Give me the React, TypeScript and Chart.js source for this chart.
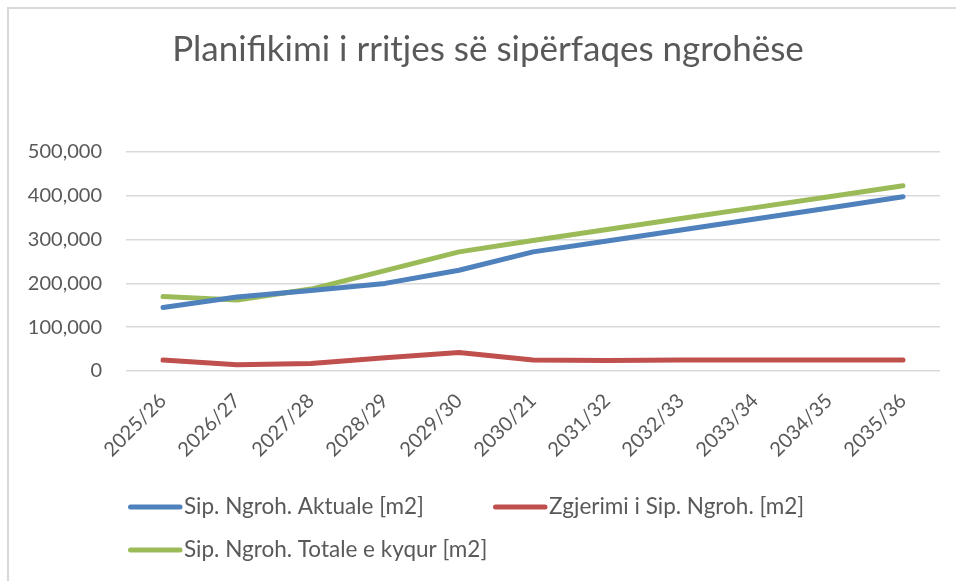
import React, { useEffect, useRef } from "react";
import { Chart, registerables } from "chart.js";

Chart.register(...registerables);

const TITLE = "Planifikimi i rritjes së sipërfaqes ngrohëse";

const categories = [
  "2025/26", "2026/27", "2027/28", "2028/29", "2029/30", "2030/21",
  "2031/32", "2032/33", "2033/34", "2034/35", "2035/36",
];

const seriesNames = [
  "Sip. Ngroh. Aktuale [m2]",
  "Zgjerimi i Sip. Ngroh. [m2]",
  "Sip. Ngroh. Totale e kyqur [m2]",
];

const aktuale = [145000, 169000, 184000, 200000, 230000, 272000, 297000, 322000, 347000, 372000, 398000];
const zgjerimi = [25000, 14000, 17000, 30000, 42000, 25000, 24000, 25000, 25000, 25000, 25000];
const totale = [170000, 162000, 187000, 229000, 272000, 298000, 323000, 348000, 373000, 398000, 423000];

const yTicks = [0, 100000, 200000, 300000, 400000, 500000];

const colors = ["#4f81bd", "#c0504d", "#9bbb59"];
const TEXT = "#595959";
const FONT = "Lato";

const legendPlugin = {
  id: "excelLegend",
  afterDraw(chart: any) {
    const ctx = chart.ctx;
    const slots = [
      [0, 0],
      [365, 0],
      [0, 43],
    ];
    const left = chart.chartArea.left + 2;
    const top = chart.height - 74;
    ctx.save();
    ctx.font = `22.5px ${FONT}`;
    ctx.textBaseline = "middle";
    ctx.textAlign = "left";
    chart.data.datasets.forEach((ds: any, i: number) => {
      const x = left + slots[i][0];
      const y = top + slots[i][1];
      ctx.strokeStyle = ds.borderColor;
      ctx.lineWidth = 5;
      ctx.lineCap = "round";
      ctx.beginPath();
      ctx.moveTo(x + 2.5, y);
      ctx.lineTo(x + 52, y);
      ctx.stroke();
      ctx.fillStyle = TEXT;
      ctx.fillText(ds.label, x + 56, y);
    });
    ctx.restore();
  },
};

export default function App() {
  const ref = useRef<HTMLCanvasElement | null>(null);
  useEffect(() => {
    if (!ref.current) return;
    const data = [aktuale, zgjerimi, totale];
    const chart = new Chart(ref.current, {
      type: "line",
      data: {
        labels: categories,
        datasets: seriesNames.map((name, i) => ({
          label: name,
          data: data[i],
          yAxisID: "y",
          borderColor: colors[i],
          backgroundColor: colors[i],
          borderWidth: 5,
          borderCapStyle: "round",
          borderJoinStyle: "round",
          pointRadius: 0,
          pointHoverRadius: 0,
          tension: 0,
        })),
      },
      options: {
        animation: false,
        responsive: true,
        maintainAspectRatio: false,
        layout: { padding: { left: 9, right: 0, top: 10, bottom: 110 } },
        plugins: {
          legend: { display: false },
          tooltip: { enabled: false },
          title: {
            display: true,
            text: TITLE,
            color: TEXT,
            font: { family: FONT, size: 35, weight: "normal" },
            padding: { top: 9.5, bottom: 81.5 },
          },
        },
        scales: {
          x: {
            type: "category",
            offset: true,
            grid: { display: false, drawTicks: false },
            border: { display: false },
            ticks: {
              color: TEXT,
              font: { family: FONT, size: 20 },
              minRotation: 45,
              maxRotation: 45,
              padding: 18,
              autoSkip: false,
            },
            afterFit: (s: any) => {
              s.height = 100;
            },
          },
          y: {
            position: "left",
            min: 0,
            max: 500000,
            grid: { color: "#d9d9d9", lineWidth: 1.5, drawTicks: false },
            border: { display: false },
            afterBuildTicks: (s: any) => {
              s.ticks = yTicks.map((v) => ({ value: v }));
            },
            ticks: {
              color: TEXT,
              font: { family: FONT, size: 20 },
              padding: 24,
              callback: (v: any) => Number(v).toLocaleString("en-US"),
            },
            afterFit: (s: any) => {
              s.width = 108;
            },
          },
          yRight: {
            type: "linear",
            position: "right",
            display: true,
            grid: { display: false, drawTicks: false },
            border: { display: false },
            ticks: { display: false },
            afterFit: (s: any) => {
              s.width = 18;
            },
          },
        },
      },
      plugins: [legendPlugin],
    });
    return () => chart.destroy();
  }, []);

  return (
    <div
      style={{
        position: "fixed",
        left: 7,
        top: 7,
        width: 951,
        height: 574,
        borderTop: "2px solid #d9d9d9",
        borderLeft: "2px solid #d9d9d9",
        boxSizing: "border-box",
        background: "#fff",
      }}
    >
      <div style={{ position: "relative", width: "100%", height: "100%" }}>
        <canvas ref={ref} />
      </div>
    </div>
  );
}
